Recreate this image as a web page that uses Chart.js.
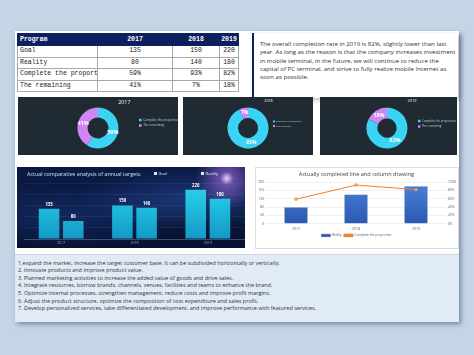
<!DOCTYPE html>
<html><head><meta charset="utf-8">
<script src="https://cdn.jsdelivr.net/npm/chart.js@4.4.1/dist/chart.umd.min.js"></script>
<style>
html,body{margin:0;padding:0;}
body{width:474px;height:355px;background:#c6d5e6;position:relative;overflow:hidden;font-family:"Open Sans","Noto Sans",sans-serif;}
.abs{position:absolute;}
#sheet{left:15px;top:31px;width:444px;height:290px;background:#fff;box-shadow:2px 3px 5px rgba(50,70,100,0.55);}
#listbg{left:15px;top:254px;width:444px;height:67px;background:#e1ebf6;border-top:1px solid #c9d6e4;}
#tbl{left:17px;top:33px;width:221px;border-collapse:collapse;table-layout:fixed;font-family:"Liberation Mono","DejaVu Sans Mono",monospace;font-size:6.5px;color:#222;}
#tbl td{border:1px solid #a8a8a8;padding:0;height:10.5px;line-height:10px;white-space:nowrap;overflow:hidden;text-align:center;}
#tbl td:first-child{text-align:left;padding-left:2px;}
#tbl tr.h td{background:#0c1f5e;color:#fff;border-color:#0c1f5e;height:11px;font-weight:bold;}
#note{left:252px;top:33px;width:198px;height:58px;background:#fff;border-left:2px solid #0c1f5e;box-shadow:2px 2px 4px rgba(0,0,0,0.25);padding:7px 0 0 6px;font-size:6.1px;line-height:8.3px;color:#333;white-space:nowrap;}
.dpanel{background:#1f2a33;top:97px;height:58px;}
#barpanel{left:17px;top:167px;width:228px;height:81px;
 background:
  radial-gradient(circle at 92% 14%, rgba(255,230,255,0.9) 0, rgba(190,120,255,0.5) 3%, rgba(120,60,220,0.0) 14%),
  radial-gradient(ellipse at 75% 40%, rgba(60,110,230,0.35) 0, rgba(20,40,120,0) 45%),
  radial-gradient(ellipse at 20% 60%, rgba(30,70,160,0.35) 0, rgba(10,20,60,0) 50%),
  linear-gradient(180deg,#0b1a45 0%,#0a1739 60%,#081230 100%);}
#bartitle{left:27px;top:170px;font-size:5.4px;color:#cfe1f3;white-space:nowrap;}
.leg{top:171px;font-size:4px;color:#e6eefa;white-space:nowrap;}
.leg i{display:inline-block;width:3px;height:3px;background:#dfe9f5;margin-right:1.5px;vertical-align:middle;}
#linepanel{left:255px;top:167px;width:202px;height:80px;background:#fff;border:1px solid #dcdcdc;}
#list{left:18px;top:259.5px;font-size:5.5px;line-height:7.65px;color:#333;white-space:nowrap;}
canvas{position:absolute;}
</style>
</head><body>
<div id="sheet" class="abs"></div>
<div id="listbg" class="abs"></div>
<table id="tbl" class="abs"><colgroup><col style="width:80px"><col style="width:75px"><col style="width:47px"><col style="width:19px"></colgroup><tbody id="tb"></tbody></table>
<div id="note" class="abs">The overall completion rate in 2019 is 82%, slightly lower than last<br>year. As long as the reason is that the company increases investment<br>in mobile terminal, in the future, we will continue to reduce the<br>capital of PC terminal, and strive to fully realize mobile Internet as<br>soon as possible.</div>

<div class="abs dpanel" style="left:18px;width:160px"></div>
<div class="abs dpanel" style="left:183px;width:130px"></div>
<div class="abs dpanel" style="left:320px;width:137px"></div>
<canvas id="d0" width="160" height="58" style="left:18px;top:97px"></canvas>
<canvas id="d1" width="130" height="58" style="left:183px;top:97px"></canvas>
<canvas id="d2" width="137" height="58" style="left:320px;top:97px"></canvas>

<div id="barpanel" class="abs"></div>
<canvas id="bars" width="228" height="81" style="left:17px;top:167px"></canvas>
<div id="bartitle" class="abs">Actual comparative analysis of annual targets</div>
<div class="abs leg" style="left:154px"><i></i>Goal</div>
<div class="abs leg" style="left:201px"><i></i>Reality</div>

<div id="linepanel" class="abs"></div>
<canvas id="combo" width="203" height="80" style="left:255px;top:167px"></canvas>

<div id="list" class="abs"></div>

<script>
const years = ['2017', '2018', '2019'];
const goal = [135, 150, 220];
const reality = [80, 140, 180];
const completePct = [59, 93, 82];
const remainingPct = [41, 7, 18];
const rowNames = ['Goal', 'Reality', 'Complete the proportion', 'The remaining'];
const donutLabels = ['Complete the proportion', 'The remaining'];
const leftTicks = [0, 20, 40, 60, 80, 100, 120, 140, 160, 180, 200];
const rightTicks = [0, 10, 20, 30, 40, 50, 60, 70, 80, 90, 100];
const listItems = [
  '1.expand the market, increase the target customer base. It can be subdivided horizontally or vertically.',
  '2. Innovate products and improve product value.',
  '3. Planned marketing activities to increase the added value of goods and drive sales.',
  '4. Integrate resources, borrow brands, channels, venues, facilities and teams to enhance the brand.',
  '5. Optimize internal processes, strengthen management, reduce costs and improve profit margins.',
  '6. Adjust the product structure, optimize the composition of cost expenditure and sales profit.',
  '7. Develop personalized services, take differentiated development, and improve performance with featured services.'
];

// table
const tb = document.getElementById('tb');
function addRow(cells, cls) {
  const tr = document.createElement('tr'); if (cls) tr.className = cls;
  cells.forEach(c => { const td = document.createElement('td'); td.textContent = c; tr.appendChild(td); });
  tb.appendChild(tr);
}
addRow(['Program'].concat(years), 'h');
addRow([rowNames[0]].concat(goal.map(String)));
addRow([rowNames[1]].concat(reality.map(String)));
addRow([rowNames[2]].concat(completePct.map(v => v + '%')));
addRow([rowNames[3]].concat(remainingPct.map(v => v + '%')));
document.getElementById('list').innerHTML = listItems.map(s => s.replace(/&/g,'&amp;')).join('<br>');

Chart.defaults.font.family = "'Open Sans', 'Noto Sans', sans-serif";
Chart.defaults.animation = false;

const pctPlugin = {
  id: 'pctLabels',
  afterDatasetsDraw(chart, args, opts) {
    const ctx = chart.ctx, meta = chart.getDatasetMeta(0);
    ctx.save();
    ctx.fillStyle = '#ffffff';
    ctx.font = 'bold ' + opts.size + "px 'Open Sans'";
    ctx.textAlign = 'center'; ctx.textBaseline = 'middle';
    meta.data.forEach((arc, i) => {
      const p = arc.tooltipPosition();
      ctx.fillText(chart.data.datasets[0].data[i] + '%', p.x, p.y);
    });
    ctx.restore();
  }
};

// cx / legX are targets inside each panel canvas (canvas coordinates)
const donutOpts = [
  {title: 5.4, leg: 3.1, box: 2.6, pct: 5.6, r: 20.5, cut: 10.5, padB: 6.5, cx: 80, legX: 121},
  {title: 3.7, leg: 2.2, box: 2.0, pct: 5.0, r: 20.5, cut: 11, padB: 4.5, cx: 65, legX: 90},
  {title: 3.9, leg: 2.9, box: 2.4, pct: 5.4, r: 20.5, cut: 10.5, padB: 4.5, cx: 67, legX: 98}
];
years.forEach((y, i) => {
  const o = donutOpts[i];
  const canvas = document.getElementById('d' + i);
  const ch = new Chart(canvas, {
    type: 'doughnut',
    data: {labels: donutLabels, datasets: [{data: [completePct[i], remainingPct[i]],
      backgroundColor: ['#3bd3f4', '#cf86f3'], borderWidth: 0}]},
    options: {
      responsive: false, radius: o.r, cutout: o.cut,
      layout: {padding: {left: 0, right: 0, top: 0, bottom: o.padB}},
      plugins: {
        title: {display: true, text: y, color: '#ffffff', font: {size: o.title, weight: 'normal'}, padding: {top: 2, bottom: 2}},
        legend: {position: 'right', labels: {color: '#c9d2da', font: {size: o.leg}, boxWidth: o.box, boxHeight: o.box, padding: 2.5}},
        tooltip: {enabled: false},
        pctLabels: {size: o.pct}
      }
    },
    plugins: [pctPlugin]
  });
  let padL = 0, padR = 0;
  for (let k = 0; k < 5; k++) {
    const hb = ch.legend.legendHitBoxes[0].left;
    const ca = ch.chartArea;
    const cx = (ca.left + ca.right) / 2;
    const dR = o.legX - hb;
    const dC = o.cx - cx;
    padR -= dR;
    padL += 2 * dC - dR;
    ch.options.layout.padding.left = padL;
    ch.options.layout.padding.right = padR;
    ch.update();
  }
});

const valPlugin = {
  id: 'valLabels',
  afterDatasetsDraw(chart, args, opts) {
    const ctx = chart.ctx;
    ctx.save();
    ctx.fillStyle = opts.color; ctx.font = 'bold ' + opts.size + "px 'Open Sans'";
    ctx.textAlign = 'center'; ctx.textBaseline = 'bottom';
    chart.data.datasets.forEach((ds, di) => {
      chart.getDatasetMeta(di).data.forEach((b, i) => ctx.fillText(String(ds.data[i]), b.x, b.y - 2));
    });
    ctx.restore();
  }
};
function cyanGrad(c) {
  const a = c.chart.chartArea; if (!a) return '#22c4e0';
  const g = c.chart.ctx.createLinearGradient(0, a.top, 0, a.bottom);
  g.addColorStop(0, '#2ad6ee'); g.addColorStop(1, '#1399c6'); return g;
}
new Chart(document.getElementById('bars'), {
  type: 'bar',
  data: {labels: years, datasets: [
    {label: 'Goal', data: goal, backgroundColor: cyanGrad, categoryPercentage: 0.66, barPercentage: 0.85},
    {label: 'Reality', data: reality, backgroundColor: cyanGrad, categoryPercentage: 0.66, barPercentage: 0.85}
  ]},
  options: {
    responsive: false,
    layout: {padding: {top: 16, left: 7.5, right: 0.5, bottom: 0}},
    scales: {
      x: {grid: {display: false, drawTicks: false}, border: {display: true, color: 'rgba(120,160,220,0.35)'},
          ticks: {color: '#8ea6c8', font: {size: 3.6}, padding: 2}, afterFit: s => { s.height = 9; }},
      y: {display: true, min: 0, max: 250, ticks: {display: false, stepSize: 50}, border: {display: false},
          grid: {color: 'rgba(140,170,230,0.10)', drawTicks: false}, afterFit: s => { s.width = 0; }}
    },
    plugins: {legend: {display: false}, tooltip: {enabled: false}, valLabels: {color: '#ffffff', size: 4.3}}
  },
  plugins: [valPlugin]
});

function blueGrad(c) {
  const a = c.chart.chartArea; if (!a) return '#4472c4';
  const g = c.chart.ctx.createLinearGradient(0, a.top, 0, a.bottom);
  g.addColorStop(0, '#4c82dc'); g.addColorStop(1, '#2c58b0'); return g;
}
new Chart(document.getElementById('combo'), {
  type: 'bar',
  data: {labels: years, datasets: [
    {type: 'bar', label: 'Reality', data: reality, backgroundColor: blueGrad, borderColor: '#2f5597', borderWidth: 0.5,
     yAxisID: 'y', order: 1, categoryPercentage: 1, barPercentage: 0.39},
    {type: 'line', label: 'Complete the proportion', data: completePct, yAxisID: 'y1', order: 0,
     borderColor: '#ed7d31', backgroundColor: '#ed7d31', borderWidth: 1, pointRadius: 1.4,
     pointBackgroundColor: '#f4b183', pointBorderColor: '#ed7d31', pointBorderWidth: 0.6}
  ]},
  options: {
    responsive: false,
    layout: {padding: {top: 0, left: 0, right: 0, bottom: 0}},
    scales: {
      x: {grid: {display: false, drawTicks: false}, border: {display: false},
          ticks: {color: '#595959', font: {size: 3.4}, padding: 3}, afterFit: s => { s.height = 8; }},
      y: {position: 'left', min: 0, max: 200, border: {display: false},
          afterBuildTicks: s => { s.ticks = leftTicks.map(v => ({value: v})); },
          ticks: {color: '#595959', font: {size: 3.2}, padding: 2},
          grid: {color: '#e4e4e4', lineWidth: 0.6, drawTicks: false}, afterFit: s => { s.width = 11; }},
      y1: {position: 'right', min: 0, max: 100, border: {display: false},
          afterBuildTicks: s => { s.ticks = rightTicks.map(v => ({value: v})); },
          ticks: {color: '#595959', font: {size: 3.2}, padding: 2, callback: v => v + '%'},
          grid: {display: false, drawTicks: false}, afterFit: s => { s.width = 12; }}
    },
    plugins: {
      title: {display: true, text: 'Actually completed line and column drawing', color: '#404040',
              font: {size: 5.6, weight: 'normal'}, padding: {top: 3.7, bottom: 4.7}},
      legend: {position: 'bottom', labels: {color: '#595959', font: {size: 3.2}, boxWidth: 9, boxHeight: 2.5, padding: 2,
               sort: (a, b) => a.datasetIndex - b.datasetIndex}},
      tooltip: {enabled: false}
    }
  }
});
</script>
</body></html>
